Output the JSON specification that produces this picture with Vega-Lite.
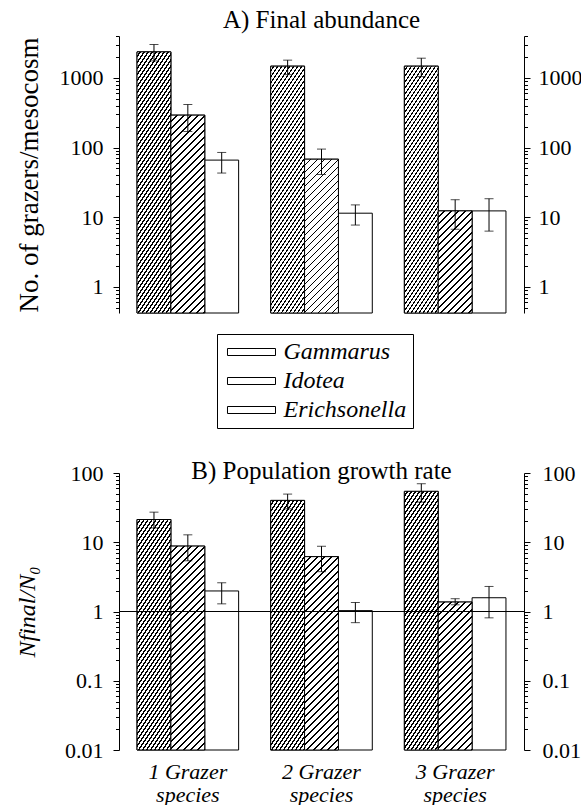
{
  "$schema": "https://vega.github.io/schema/vega-lite/v6.json",
  "padding": {"left": 14, "top": 8, "right": 0, "bottom": 0},
  "background": "white",
  "spacing": 140,
  "params": [
    {"name": "gst", "value": [
{"offset":0,"color":"#fff"},{"offset":0.0075,"color":"#fff"},{"offset":0.0075,"color":"#000"},{"offset":0.0125,"color":"#000"},
{"offset":0.0125,"color":"#fff"},{"offset":0.02,"color":"#fff"},{"offset":0.02,"color":"#000"},{"offset":0.025,"color":"#000"},
{"offset":0.025,"color":"#fff"},{"offset":0.0325,"color":"#fff"},{"offset":0.0325,"color":"#000"},{"offset":0.0375,"color":"#000"},
{"offset":0.0375,"color":"#fff"},{"offset":0.045,"color":"#fff"},{"offset":0.045,"color":"#000"},{"offset":0.05,"color":"#000"},
{"offset":0.05,"color":"#fff"},{"offset":0.0575,"color":"#fff"},{"offset":0.0575,"color":"#000"},{"offset":0.0625,"color":"#000"},
{"offset":0.0625,"color":"#fff"},{"offset":0.07,"color":"#fff"},{"offset":0.07,"color":"#000"},{"offset":0.075,"color":"#000"},
{"offset":0.075,"color":"#fff"},{"offset":0.0825,"color":"#fff"},{"offset":0.0825,"color":"#000"},{"offset":0.0875,"color":"#000"},
{"offset":0.0875,"color":"#fff"},{"offset":0.095,"color":"#fff"},{"offset":0.095,"color":"#000"},{"offset":0.1,"color":"#000"},
{"offset":0.1,"color":"#fff"},{"offset":0.1075,"color":"#fff"},{"offset":0.1075,"color":"#000"},{"offset":0.1125,"color":"#000"},
{"offset":0.1125,"color":"#fff"},{"offset":0.12,"color":"#fff"},{"offset":0.12,"color":"#000"},{"offset":0.125,"color":"#000"},
{"offset":0.125,"color":"#fff"},{"offset":0.1325,"color":"#fff"},{"offset":0.1325,"color":"#000"},{"offset":0.1375,"color":"#000"},
{"offset":0.1375,"color":"#fff"},{"offset":0.145,"color":"#fff"},{"offset":0.145,"color":"#000"},{"offset":0.15,"color":"#000"},
{"offset":0.15,"color":"#fff"},{"offset":0.1575,"color":"#fff"},{"offset":0.1575,"color":"#000"},{"offset":0.1625,"color":"#000"},
{"offset":0.1625,"color":"#fff"},{"offset":0.17,"color":"#fff"},{"offset":0.17,"color":"#000"},{"offset":0.175,"color":"#000"},
{"offset":0.175,"color":"#fff"},{"offset":0.1825,"color":"#fff"},{"offset":0.1825,"color":"#000"},{"offset":0.1875,"color":"#000"},
{"offset":0.1875,"color":"#fff"},{"offset":0.195,"color":"#fff"},{"offset":0.195,"color":"#000"},{"offset":0.2,"color":"#000"},
{"offset":0.2,"color":"#fff"},{"offset":0.2075,"color":"#fff"},{"offset":0.2075,"color":"#000"},{"offset":0.2125,"color":"#000"},
{"offset":0.2125,"color":"#fff"},{"offset":0.22,"color":"#fff"},{"offset":0.22,"color":"#000"},{"offset":0.225,"color":"#000"},
{"offset":0.225,"color":"#fff"},{"offset":0.2325,"color":"#fff"},{"offset":0.2325,"color":"#000"},{"offset":0.2375,"color":"#000"},
{"offset":0.2375,"color":"#fff"},{"offset":0.245,"color":"#fff"},{"offset":0.245,"color":"#000"},{"offset":0.25,"color":"#000"},
{"offset":0.25,"color":"#fff"},{"offset":0.2575,"color":"#fff"},{"offset":0.2575,"color":"#000"},{"offset":0.2625,"color":"#000"},
{"offset":0.2625,"color":"#fff"},{"offset":0.27,"color":"#fff"},{"offset":0.27,"color":"#000"},{"offset":0.275,"color":"#000"},
{"offset":0.275,"color":"#fff"},{"offset":0.2825,"color":"#fff"},{"offset":0.2825,"color":"#000"},{"offset":0.2875,"color":"#000"},
{"offset":0.2875,"color":"#fff"},{"offset":0.295,"color":"#fff"},{"offset":0.295,"color":"#000"},{"offset":0.3,"color":"#000"},
{"offset":0.3,"color":"#fff"},{"offset":0.3075,"color":"#fff"},{"offset":0.3075,"color":"#000"},{"offset":0.3125,"color":"#000"},
{"offset":0.3125,"color":"#fff"},{"offset":0.32,"color":"#fff"},{"offset":0.32,"color":"#000"},{"offset":0.325,"color":"#000"},
{"offset":0.325,"color":"#fff"},{"offset":0.3325,"color":"#fff"},{"offset":0.3325,"color":"#000"},{"offset":0.3375,"color":"#000"},
{"offset":0.3375,"color":"#fff"},{"offset":0.345,"color":"#fff"},{"offset":0.345,"color":"#000"},{"offset":0.35,"color":"#000"},
{"offset":0.35,"color":"#fff"},{"offset":0.3575,"color":"#fff"},{"offset":0.3575,"color":"#000"},{"offset":0.3625,"color":"#000"},
{"offset":0.3625,"color":"#fff"},{"offset":0.37,"color":"#fff"},{"offset":0.37,"color":"#000"},{"offset":0.375,"color":"#000"},
{"offset":0.375,"color":"#fff"},{"offset":0.3825,"color":"#fff"},{"offset":0.3825,"color":"#000"},{"offset":0.3875,"color":"#000"},
{"offset":0.3875,"color":"#fff"},{"offset":0.395,"color":"#fff"},{"offset":0.395,"color":"#000"},{"offset":0.4,"color":"#000"},
{"offset":0.4,"color":"#fff"},{"offset":0.4075,"color":"#fff"},{"offset":0.4075,"color":"#000"},{"offset":0.4125,"color":"#000"},
{"offset":0.4125,"color":"#fff"},{"offset":0.42,"color":"#fff"},{"offset":0.42,"color":"#000"},{"offset":0.425,"color":"#000"},
{"offset":0.425,"color":"#fff"},{"offset":0.4325,"color":"#fff"},{"offset":0.4325,"color":"#000"},{"offset":0.4375,"color":"#000"},
{"offset":0.4375,"color":"#fff"},{"offset":0.445,"color":"#fff"},{"offset":0.445,"color":"#000"},{"offset":0.45,"color":"#000"},
{"offset":0.45,"color":"#fff"},{"offset":0.4575,"color":"#fff"},{"offset":0.4575,"color":"#000"},{"offset":0.4625,"color":"#000"},
{"offset":0.4625,"color":"#fff"},{"offset":0.47,"color":"#fff"},{"offset":0.47,"color":"#000"},{"offset":0.475,"color":"#000"},
{"offset":0.475,"color":"#fff"},{"offset":0.4825,"color":"#fff"},{"offset":0.4825,"color":"#000"},{"offset":0.4875,"color":"#000"},
{"offset":0.4875,"color":"#fff"},{"offset":0.495,"color":"#fff"},{"offset":0.495,"color":"#000"},{"offset":0.5,"color":"#000"},
{"offset":0.5,"color":"#fff"},{"offset":0.5075,"color":"#fff"},{"offset":0.5075,"color":"#000"},{"offset":0.5125,"color":"#000"},
{"offset":0.5125,"color":"#fff"},{"offset":0.52,"color":"#fff"},{"offset":0.52,"color":"#000"},{"offset":0.525,"color":"#000"},
{"offset":0.525,"color":"#fff"},{"offset":0.5325,"color":"#fff"},{"offset":0.5325,"color":"#000"},{"offset":0.5375,"color":"#000"},
{"offset":0.5375,"color":"#fff"},{"offset":0.545,"color":"#fff"},{"offset":0.545,"color":"#000"},{"offset":0.55,"color":"#000"},
{"offset":0.55,"color":"#fff"},{"offset":0.5575,"color":"#fff"},{"offset":0.5575,"color":"#000"},{"offset":0.5625,"color":"#000"},
{"offset":0.5625,"color":"#fff"},{"offset":0.57,"color":"#fff"},{"offset":0.57,"color":"#000"},{"offset":0.575,"color":"#000"},
{"offset":0.575,"color":"#fff"},{"offset":0.5825,"color":"#fff"},{"offset":0.5825,"color":"#000"},{"offset":0.5875,"color":"#000"},
{"offset":0.5875,"color":"#fff"},{"offset":0.595,"color":"#fff"},{"offset":0.595,"color":"#000"},{"offset":0.6,"color":"#000"},
{"offset":0.6,"color":"#fff"},{"offset":0.6075,"color":"#fff"},{"offset":0.6075,"color":"#000"},{"offset":0.6125,"color":"#000"},
{"offset":0.6125,"color":"#fff"},{"offset":0.62,"color":"#fff"},{"offset":0.62,"color":"#000"},{"offset":0.625,"color":"#000"},
{"offset":0.625,"color":"#fff"},{"offset":0.6325,"color":"#fff"},{"offset":0.6325,"color":"#000"},{"offset":0.6375,"color":"#000"},
{"offset":0.6375,"color":"#fff"},{"offset":0.645,"color":"#fff"},{"offset":0.645,"color":"#000"},{"offset":0.65,"color":"#000"},
{"offset":0.65,"color":"#fff"},{"offset":0.6575,"color":"#fff"},{"offset":0.6575,"color":"#000"},{"offset":0.6625,"color":"#000"},
{"offset":0.6625,"color":"#fff"},{"offset":0.67,"color":"#fff"},{"offset":0.67,"color":"#000"},{"offset":0.675,"color":"#000"},
{"offset":0.675,"color":"#fff"},{"offset":0.6825,"color":"#fff"},{"offset":0.6825,"color":"#000"},{"offset":0.6875,"color":"#000"},
{"offset":0.6875,"color":"#fff"},{"offset":0.695,"color":"#fff"},{"offset":0.695,"color":"#000"},{"offset":0.7,"color":"#000"},
{"offset":0.7,"color":"#fff"},{"offset":0.7075,"color":"#fff"},{"offset":0.7075,"color":"#000"},{"offset":0.7125,"color":"#000"},
{"offset":0.7125,"color":"#fff"},{"offset":0.72,"color":"#fff"},{"offset":0.72,"color":"#000"},{"offset":0.725,"color":"#000"},
{"offset":0.725,"color":"#fff"},{"offset":0.7325,"color":"#fff"},{"offset":0.7325,"color":"#000"},{"offset":0.7375,"color":"#000"},
{"offset":0.7375,"color":"#fff"},{"offset":0.745,"color":"#fff"},{"offset":0.745,"color":"#000"},{"offset":0.75,"color":"#000"},
{"offset":0.75,"color":"#fff"},{"offset":0.7575,"color":"#fff"},{"offset":0.7575,"color":"#000"},{"offset":0.7625,"color":"#000"},
{"offset":0.7625,"color":"#fff"},{"offset":0.77,"color":"#fff"},{"offset":0.77,"color":"#000"},{"offset":0.775,"color":"#000"},
{"offset":0.775,"color":"#fff"},{"offset":0.7825,"color":"#fff"},{"offset":0.7825,"color":"#000"},{"offset":0.7875,"color":"#000"},
{"offset":0.7875,"color":"#fff"},{"offset":0.795,"color":"#fff"},{"offset":0.795,"color":"#000"},{"offset":0.8,"color":"#000"},
{"offset":0.8,"color":"#fff"},{"offset":0.8075,"color":"#fff"},{"offset":0.8075,"color":"#000"},{"offset":0.8125,"color":"#000"},
{"offset":0.8125,"color":"#fff"},{"offset":0.82,"color":"#fff"},{"offset":0.82,"color":"#000"},{"offset":0.825,"color":"#000"},
{"offset":0.825,"color":"#fff"},{"offset":0.8325,"color":"#fff"},{"offset":0.8325,"color":"#000"},{"offset":0.8375,"color":"#000"},
{"offset":0.8375,"color":"#fff"},{"offset":0.845,"color":"#fff"},{"offset":0.845,"color":"#000"},{"offset":0.85,"color":"#000"},
{"offset":0.85,"color":"#fff"},{"offset":0.8575,"color":"#fff"},{"offset":0.8575,"color":"#000"},{"offset":0.8625,"color":"#000"},
{"offset":0.8625,"color":"#fff"},{"offset":0.87,"color":"#fff"},{"offset":0.87,"color":"#000"},{"offset":0.875,"color":"#000"},
{"offset":0.875,"color":"#fff"},{"offset":0.8825,"color":"#fff"},{"offset":0.8825,"color":"#000"},{"offset":0.8875,"color":"#000"},
{"offset":0.8875,"color":"#fff"},{"offset":0.895,"color":"#fff"},{"offset":0.895,"color":"#000"},{"offset":0.9,"color":"#000"},
{"offset":0.9,"color":"#fff"},{"offset":0.9075,"color":"#fff"},{"offset":0.9075,"color":"#000"},{"offset":0.9125,"color":"#000"},
{"offset":0.9125,"color":"#fff"},{"offset":0.92,"color":"#fff"},{"offset":0.92,"color":"#000"},{"offset":0.925,"color":"#000"},
{"offset":0.925,"color":"#fff"},{"offset":0.9325,"color":"#fff"},{"offset":0.9325,"color":"#000"},{"offset":0.9375,"color":"#000"},
{"offset":0.9375,"color":"#fff"},{"offset":0.945,"color":"#fff"},{"offset":0.945,"color":"#000"},{"offset":0.95,"color":"#000"},
{"offset":0.95,"color":"#fff"},{"offset":0.9575,"color":"#fff"},{"offset":0.9575,"color":"#000"},{"offset":0.9625,"color":"#000"},
{"offset":0.9625,"color":"#fff"},{"offset":0.97,"color":"#fff"},{"offset":0.97,"color":"#000"},{"offset":0.975,"color":"#000"},
{"offset":0.975,"color":"#fff"},{"offset":0.9825,"color":"#fff"},{"offset":0.9825,"color":"#000"},{"offset":0.9875,"color":"#000"},
{"offset":0.9875,"color":"#fff"},{"offset":0.995,"color":"#fff"},{"offset":0.995,"color":"#000"},{"offset":1,"color":"#000"}
    ]},
    {"name": "ist", "value": [
{"offset":0,"color":"#fff"},{"offset":0.02,"color":"#fff"},{"offset":0.02,"color":"#000"},{"offset":0.025,"color":"#000"},
{"offset":0.025,"color":"#fff"},{"offset":0.045,"color":"#fff"},{"offset":0.045,"color":"#000"},{"offset":0.05,"color":"#000"},
{"offset":0.05,"color":"#fff"},{"offset":0.07,"color":"#fff"},{"offset":0.07,"color":"#000"},{"offset":0.075,"color":"#000"},
{"offset":0.075,"color":"#fff"},{"offset":0.095,"color":"#fff"},{"offset":0.095,"color":"#000"},{"offset":0.1,"color":"#000"},
{"offset":0.1,"color":"#fff"},{"offset":0.12,"color":"#fff"},{"offset":0.12,"color":"#000"},{"offset":0.125,"color":"#000"},
{"offset":0.125,"color":"#fff"},{"offset":0.145,"color":"#fff"},{"offset":0.145,"color":"#000"},{"offset":0.15,"color":"#000"},
{"offset":0.15,"color":"#fff"},{"offset":0.17,"color":"#fff"},{"offset":0.17,"color":"#000"},{"offset":0.175,"color":"#000"},
{"offset":0.175,"color":"#fff"},{"offset":0.195,"color":"#fff"},{"offset":0.195,"color":"#000"},{"offset":0.2,"color":"#000"},
{"offset":0.2,"color":"#fff"},{"offset":0.22,"color":"#fff"},{"offset":0.22,"color":"#000"},{"offset":0.225,"color":"#000"},
{"offset":0.225,"color":"#fff"},{"offset":0.245,"color":"#fff"},{"offset":0.245,"color":"#000"},{"offset":0.25,"color":"#000"},
{"offset":0.25,"color":"#fff"},{"offset":0.27,"color":"#fff"},{"offset":0.27,"color":"#000"},{"offset":0.275,"color":"#000"},
{"offset":0.275,"color":"#fff"},{"offset":0.295,"color":"#fff"},{"offset":0.295,"color":"#000"},{"offset":0.3,"color":"#000"},
{"offset":0.3,"color":"#fff"},{"offset":0.32,"color":"#fff"},{"offset":0.32,"color":"#000"},{"offset":0.325,"color":"#000"},
{"offset":0.325,"color":"#fff"},{"offset":0.345,"color":"#fff"},{"offset":0.345,"color":"#000"},{"offset":0.35,"color":"#000"},
{"offset":0.35,"color":"#fff"},{"offset":0.37,"color":"#fff"},{"offset":0.37,"color":"#000"},{"offset":0.375,"color":"#000"},
{"offset":0.375,"color":"#fff"},{"offset":0.395,"color":"#fff"},{"offset":0.395,"color":"#000"},{"offset":0.4,"color":"#000"},
{"offset":0.4,"color":"#fff"},{"offset":0.42,"color":"#fff"},{"offset":0.42,"color":"#000"},{"offset":0.425,"color":"#000"},
{"offset":0.425,"color":"#fff"},{"offset":0.445,"color":"#fff"},{"offset":0.445,"color":"#000"},{"offset":0.45,"color":"#000"},
{"offset":0.45,"color":"#fff"},{"offset":0.47,"color":"#fff"},{"offset":0.47,"color":"#000"},{"offset":0.475,"color":"#000"},
{"offset":0.475,"color":"#fff"},{"offset":0.495,"color":"#fff"},{"offset":0.495,"color":"#000"},{"offset":0.5,"color":"#000"},
{"offset":0.5,"color":"#fff"},{"offset":0.52,"color":"#fff"},{"offset":0.52,"color":"#000"},{"offset":0.525,"color":"#000"},
{"offset":0.525,"color":"#fff"},{"offset":0.545,"color":"#fff"},{"offset":0.545,"color":"#000"},{"offset":0.55,"color":"#000"},
{"offset":0.55,"color":"#fff"},{"offset":0.57,"color":"#fff"},{"offset":0.57,"color":"#000"},{"offset":0.575,"color":"#000"},
{"offset":0.575,"color":"#fff"},{"offset":0.595,"color":"#fff"},{"offset":0.595,"color":"#000"},{"offset":0.6,"color":"#000"},
{"offset":0.6,"color":"#fff"},{"offset":0.62,"color":"#fff"},{"offset":0.62,"color":"#000"},{"offset":0.625,"color":"#000"},
{"offset":0.625,"color":"#fff"},{"offset":0.645,"color":"#fff"},{"offset":0.645,"color":"#000"},{"offset":0.65,"color":"#000"},
{"offset":0.65,"color":"#fff"},{"offset":0.67,"color":"#fff"},{"offset":0.67,"color":"#000"},{"offset":0.675,"color":"#000"},
{"offset":0.675,"color":"#fff"},{"offset":0.695,"color":"#fff"},{"offset":0.695,"color":"#000"},{"offset":0.7,"color":"#000"},
{"offset":0.7,"color":"#fff"},{"offset":0.72,"color":"#fff"},{"offset":0.72,"color":"#000"},{"offset":0.725,"color":"#000"},
{"offset":0.725,"color":"#fff"},{"offset":0.745,"color":"#fff"},{"offset":0.745,"color":"#000"},{"offset":0.75,"color":"#000"},
{"offset":0.75,"color":"#fff"},{"offset":0.77,"color":"#fff"},{"offset":0.77,"color":"#000"},{"offset":0.775,"color":"#000"},
{"offset":0.775,"color":"#fff"},{"offset":0.795,"color":"#fff"},{"offset":0.795,"color":"#000"},{"offset":0.8,"color":"#000"},
{"offset":0.8,"color":"#fff"},{"offset":0.82,"color":"#fff"},{"offset":0.82,"color":"#000"},{"offset":0.825,"color":"#000"},
{"offset":0.825,"color":"#fff"},{"offset":0.845,"color":"#fff"},{"offset":0.845,"color":"#000"},{"offset":0.85,"color":"#000"},
{"offset":0.85,"color":"#fff"},{"offset":0.87,"color":"#fff"},{"offset":0.87,"color":"#000"},{"offset":0.875,"color":"#000"},
{"offset":0.875,"color":"#fff"},{"offset":0.895,"color":"#fff"},{"offset":0.895,"color":"#000"},{"offset":0.9,"color":"#000"},
{"offset":0.9,"color":"#fff"},{"offset":0.92,"color":"#fff"},{"offset":0.92,"color":"#000"},{"offset":0.925,"color":"#000"},
{"offset":0.925,"color":"#fff"},{"offset":0.945,"color":"#fff"},{"offset":0.945,"color":"#000"},{"offset":0.95,"color":"#000"},
{"offset":0.95,"color":"#fff"},{"offset":0.97,"color":"#fff"},{"offset":0.97,"color":"#000"},{"offset":0.975,"color":"#000"},
{"offset":0.975,"color":"#fff"},{"offset":0.995,"color":"#fff"},{"offset":0.995,"color":"#000"},{"offset":1,"color":"#000"}
    ]}
  ],
  "config": {
    "font": "Liberation Serif",
    "view": {"stroke": null},
    "axis": {"domainColor": "#000", "tickColor": "#000", "labelColor": "#000", "titleColor": "#000", "grid": false, "labelFont": "Liberation Serif", "titleFont": "Liberation Serif", "titleFontWeight": "normal", "domainWidth": 1, "tickWidth": 1},
    "legend": {"labelFont": "Liberation Serif", "titleFont": "Liberation Serif"},
    "title": {"font": "Liberation Serif", "fontWeight": "normal", "color": "#000"}
  },
  "datasets": {
    "abund": [
      {"group": "1 Grazer species", "species": "Gammarus", "value": 2365, "lo": 1757, "hi": 3020},
      {"group": "1 Grazer species", "species": "Idotea", "value": 292, "lo": 170, "hi": 415},
      {"group": "1 Grazer species", "species": "Erichsonella", "value": 66, "lo": 43, "hi": 85},
      {"group": "2 Grazer species", "species": "Gammarus", "value": 1475, "lo": 1115, "hi": 1800},
      {"group": "2 Grazer species", "species": "Idotea", "value": 68, "lo": 41, "hi": 95},
      {"group": "2 Grazer species", "species": "Erichsonella", "value": 11.4, "lo": 7.7, "hi": 15},
      {"group": "3 Grazer species", "species": "Gammarus", "value": 1475, "lo": 1045, "hi": 1920},
      {"group": "3 Grazer species", "species": "Idotea", "value": 12.3, "lo": 6.7, "hi": 17.8},
      {"group": "3 Grazer species", "species": "Erichsonella", "value": 12.3, "lo": 6.3, "hi": 18.4}
    ],
    "growth": [
      {"group": "1 Grazer species", "species": "Gammarus", "value": 21.3, "lo": 16.1, "hi": 27.2},
      {"group": "1 Grazer species", "species": "Idotea", "value": 8.8, "lo": 5.4, "hi": 12.8},
      {"group": "1 Grazer species", "species": "Erichsonella", "value": 1.98, "lo": 1.29, "hi": 2.6},
      {"group": "2 Grazer species", "species": "Gammarus", "value": 40.2, "lo": 30.4, "hi": 49.6},
      {"group": "2 Grazer species", "species": "Idotea", "value": 6.2, "lo": 3.76, "hi": 8.75},
      {"group": "2 Grazer species", "species": "Erichsonella", "value": 1.03, "lo": 0.69, "hi": 1.35},
      {"group": "3 Grazer species", "species": "Gammarus", "value": 54.3, "lo": 38, "hi": 70},
      {"group": "3 Grazer species", "species": "Idotea", "value": 1.37, "lo": 1.25, "hi": 1.53},
      {"group": "3 Grazer species", "species": "Erichsonella", "value": 1.58, "lo": 0.81, "hi": 2.3}
    ]
  },
  "vconcat": [
    {
      "width": 405, "height": 277,
      "title": {"text": "A) Final abundance", "fontSize": 25, "font": "Liberation Serif", "frame": "group", "offset": -8},
      "data": {"name": "abund"},
      "encoding": {
        "x": {"field": "group", "type": "nominal", "sort": null, "scale": {"paddingInner": 0.24, "paddingOuter": 0.135}, "axis": null},
        "xOffset": {"field": "species", "type": "nominal", "scale": {"domain": ["Gammarus", "Idotea", "Erichsonella"], "paddingInner": 0, "paddingOuter": 0}}
      },
      "layer": [
        {
          "mark": {"type": "bar", "fill": "#fff", "strokeWidth": 1, "opacity": 1},
          "encoding": {
            "y": {"field": "value", "type": "quantitative", "scale": {"type": "log", "domain": [0.42, 4000], "nice": false},
              "axis": {"orient": "left", "title": "No. of grazers/mesocosm", "titleFont": "Liberation Serif", "titleFontSize": 27, "titlePadding": 16,
                "values": [0.5,0.6,0.7,0.8,0.9,1,2,3,4,5,6,7,8,9,10,20,30,40,50,60,70,80,90,100,200,300,400,500,600,700,800,900,1000,2000,3000,4000],
                "labelExpr": "indexof([0.01,0.1,1,10,100,1000], datum.value) >= 0 ? '' + datum.value : ''",
                "tickSize": {"condition": {"test": "indexof([0.01,0.1,1,10,100,1000], datum.value) >= 0", "value": 6}, "value": 3.5},
                "labelFont": "Liberation Serif", "labelFontSize": 22, "labelPadding": 10, "labelOverlap": false, "labelBound": false}},
            "y2": {"datum": 0.42},
            "stroke": {"field": "species", "type": "nominal",
              "scale": {"domain": ["Gammarus", "Idotea", "Erichsonella"], "range": ["#000", "#000", "#000"]},
              "legend": {"title": null, "orient": "none", "legendX": 98, "legendY": 298, "direction": "vertical",
                "symbolType": "M-3.43,-0.5H3.43V0.5H-3.43Z", "symbolSize": 196, "symbolStrokeWidth": 1, "symbolOpacity": 1,
                "symbolFillColor": {"expr": "datum.value === 'Gammarus' ? {gradient:'linear',x1:0,y1:0,x2:6.604,y2:0.642,stops:gst} : datum.value === 'Idotea' ? {gradient:'linear',x1:0,y1:0,x2:5.712,y2:0.833,stops:ist} : '#fff'"},
                "symbolOffset": 16.5, "labelOffset": 20, "labelFont": "Liberation Serif", "labelFontSize": 24, "labelFontStyle": "italic", "labelColor": "#000",
                "rowPadding": 5, "padding": 6, "strokeColor": "#000",
                "encode": {"symbols": {"update": {
                  "fill": {"signal": "datum.value === 'Gammarus' ? {gradient:'linear',x1:0,y1:0,x2:6.604,y2:0.642,stops:gst} : datum.value === 'Idotea' ? {gradient:'linear',x1:0,y1:0,x2:5.712,y2:0.833,stops:ist} : '#fff'"},
                  "strokeWidth": {"value": 1}, "opacity": {"value": 1}, "fillOpacity": {"value": 1}, "strokeOpacity": {"value": 1}
                }}}
              }}
          }
        },
        {
          "transform": [{"filter": "datum.species === 'Gammarus'"}],
          "mark": {"type": "bar", "stroke": "#000", "strokeWidth": 1},
          "encoding": {
            "y": {"field": "value", "type": "quantitative", "scale": {"type": "log", "domain": [0.42, 4000], "nice": false}, "axis": null},
            "y2": {"datum": 0.42},
            "fill": {"value": {"expr": "{gradient:'linear',x1:0,y1:0,x2:480*50.79/(2579.9+pow((log(datum.value)/LN10+0.37675)*69.619,2)),y2:480*(log(datum.value)/LN10+0.37675)*69.619/(2579.9+pow((log(datum.value)/LN10+0.37675)*69.619,2)),stops:gst}"}}
          }
        },
        {
          "transform": [{"filter": "datum.species === 'Idotea'"}],
          "mark": {"type": "bar", "stroke": "#000", "strokeWidth": 1},
          "encoding": {
            "y": {"field": "value", "type": "quantitative", "scale": {"type": "log", "domain": [0.42, 4000], "nice": false}, "axis": null},
            "y2": {"datum": 0.42},
            "fill": {"value": {"expr": "{gradient:'linear',x1:0,y1:0,x2:280*33.86/(1146.6+pow((log(datum.value)/LN10+0.37675)*69.619,2)),y2:280*(log(datum.value)/LN10+0.37675)*69.619/(1146.6+pow((log(datum.value)/LN10+0.37675)*69.619,2)),stops:ist}"}}
          }
        },
        {
          "mark": {"type": "rule", "color": "#000", "strokeWidth": 1},
          "encoding": {
            "y": {"field": "lo", "type": "quantitative", "scale": {"type": "log", "domain": [0.42, 4000], "nice": false},
              "axis": {"orient": "right", "title": null,
                "values": [0.5,0.6,0.7,0.8,0.9,1,2,3,4,5,6,7,8,9,10,20,30,40,50,60,70,80,90,100,200,300,400,500,600,700,800,900,1000,2000,3000,4000],
                "labelExpr": "indexof([0.01,0.1,1,10,100,1000], datum.value) >= 0 ? '' + datum.value : ''",
                "tickSize": {"condition": {"test": "indexof([0.01,0.1,1,10,100,1000], datum.value) >= 0", "value": 6}, "value": 3.5},
                "labelFont": "Liberation Serif", "labelFontSize": 22, "labelPadding": 8, "labelOverlap": false, "labelBound": false}},
            "y2": {"field": "hi"}
          }
        },
        {
          "mark": {"type": "tick", "color": "#000", "thickness": 1, "size": 9},
          "encoding": {"y": {"field": "lo", "type": "quantitative", "scale": {"type": "log", "domain": [0.42, 4000], "nice": false}, "axis": null}}
        },
        {
          "mark": {"type": "tick", "color": "#000", "thickness": 1, "size": 9},
          "encoding": {"y": {"field": "hi", "type": "quantitative", "scale": {"type": "log", "domain": [0.42, 4000], "nice": false}, "axis": null}}
        }
      ],
      "resolve": {"axis": {"y": "independent"}}
    },
    {
      "width": 405, "height": 277,
      "title": {"text": "B) Population growth rate", "fontSize": 25, "font": "Liberation Serif", "frame": "group", "offset": -22},
      "data": {"name": "growth"},
      "layer": [
        {
          "mark": {"type": "bar", "stroke": "#000", "strokeWidth": 1, "fill": "#fff"},
          "encoding": {
            "x": {"field": "group", "type": "nominal", "sort": null, "scale": {"paddingInner": 0.24, "paddingOuter": 0.135},
              "axis": {"title": null, "domain": false, "ticks": false, "labelAngle": 0, "labelFont": "Liberation Serif", "labelFontSize": 22, "labelFontStyle": "italic", "labelPadding": 11, "labelLineHeight": 23, "labelExpr": "[replace(datum.label, ' species', ''), 'species']"}},
            "xOffset": {"field": "species", "type": "nominal", "scale": {"domain": ["Gammarus", "Idotea", "Erichsonella"], "paddingInner": 0, "paddingOuter": 0}},
            "y": {"field": "value", "type": "quantitative", "scale": {"type": "log", "domain": [0.01, 100], "nice": false},
              "axis": {"orient": "left", "title": "Nfinal/N₀", "titleFont": "Liberation Serif", "titleFontSize": 24, "titleFontStyle": "italic", "titlePadding": 25,
                "values": [0.01,0.02,0.03,0.04,0.05,0.06,0.07,0.08,0.09,0.1,0.2,0.3,0.4,0.5,0.6,0.7,0.8,0.9,1,2,3,4,5,6,7,8,9,10,20,30,40,50,60,70,80,90,100],
                "labelExpr": "indexof([0.01,0.1,1,10,100,1000], datum.value) >= 0 ? '' + datum.value : ''",
                "tickSize": {"condition": {"test": "indexof([0.01,0.1,1,10,100,1000], datum.value) >= 0", "value": 6}, "value": 3.5},
                "labelFont": "Liberation Serif", "labelFontSize": 22, "labelPadding": 10, "labelOverlap": false, "labelBound": false}},
            "y2": {"datum": 0.01}
          }
        },
        {
          "transform": [{"filter": "datum.species === 'Gammarus'"}],
          "mark": {"type": "bar", "stroke": "#000", "strokeWidth": 1},
          "encoding": {
            "x": {"field": "group", "type": "nominal", "sort": null, "scale": {"paddingInner": 0.24, "paddingOuter": 0.135},
              "axis": {"title": null, "domain": false, "ticks": false, "labelAngle": 0, "labelFont": "Liberation Serif", "labelFontSize": 22, "labelFontStyle": "italic", "labelPadding": 11, "labelLineHeight": 23, "labelExpr": "[replace(datum.label, ' species', ''), 'species']"}},
            "xOffset": {"field": "species", "type": "nominal", "scale": {"domain": ["Gammarus", "Idotea", "Erichsonella"], "paddingInner": 0, "paddingOuter": 0}},
            "y": {"field": "value", "type": "quantitative", "scale": {"type": "log", "domain": [0.01, 100], "nice": false}, "axis": null},
            "y2": {"datum": 0.01},
            "fill": {"value": {"expr": "{gradient:'linear',x1:0,y1:0,x2:480*50.79/(2579.9+pow((log(datum.value)/LN10+2)*69.25,2)),y2:480*(log(datum.value)/LN10+2)*69.25/(2579.9+pow((log(datum.value)/LN10+2)*69.25,2)),stops:gst}"}}
          }
        },
        {
          "transform": [{"filter": "datum.species === 'Idotea'"}],
          "mark": {"type": "bar", "stroke": "#000", "strokeWidth": 1},
          "encoding": {
            "x": {"field": "group", "type": "nominal", "sort": null, "scale": {"paddingInner": 0.24, "paddingOuter": 0.135},
              "axis": {"title": null, "domain": false, "ticks": false, "labelAngle": 0, "labelFont": "Liberation Serif", "labelFontSize": 22, "labelFontStyle": "italic", "labelPadding": 11, "labelLineHeight": 23, "labelExpr": "[replace(datum.label, ' species', ''), 'species']"}},
            "xOffset": {"field": "species", "type": "nominal", "scale": {"domain": ["Gammarus", "Idotea", "Erichsonella"], "paddingInner": 0, "paddingOuter": 0}},
            "y": {"field": "value", "type": "quantitative", "scale": {"type": "log", "domain": [0.01, 100], "nice": false}, "axis": null},
            "y2": {"datum": 0.01},
            "fill": {"value": {"expr": "{gradient:'linear',x1:0,y1:0,x2:280*33.86/(1146.6+pow((log(datum.value)/LN10+2)*69.25,2)),y2:280*(log(datum.value)/LN10+2)*69.25/(1146.6+pow((log(datum.value)/LN10+2)*69.25,2)),stops:ist}"}}
          }
        },
        {
          "data": {"values": [{}]},
          "mark": {"type": "rule", "color": "#000", "strokeWidth": 1},
          "encoding": {
            "y": {"datum": 1, "type": "quantitative", "scale": {"type": "log", "domain": [0.01, 100], "nice": false}, "axis": null}
          }
        },
        {
          "mark": {"type": "rule", "color": "#000", "strokeWidth": 1},
          "encoding": {
            "x": {"field": "group", "type": "nominal", "sort": null, "scale": {"paddingInner": 0.24, "paddingOuter": 0.135},
              "axis": {"title": null, "domain": false, "ticks": false, "labelAngle": 0, "labelFont": "Liberation Serif", "labelFontSize": 22, "labelFontStyle": "italic", "labelPadding": 11, "labelLineHeight": 23, "labelExpr": "[replace(datum.label, ' species', ''), 'species']"}},
            "xOffset": {"field": "species", "type": "nominal", "scale": {"domain": ["Gammarus", "Idotea", "Erichsonella"], "paddingInner": 0, "paddingOuter": 0}},
            "y": {"field": "lo", "type": "quantitative", "scale": {"type": "log", "domain": [0.01, 100], "nice": false},
              "axis": {"orient": "right", "title": null,
                "values": [0.01,0.02,0.03,0.04,0.05,0.06,0.07,0.08,0.09,0.1,0.2,0.3,0.4,0.5,0.6,0.7,0.8,0.9,1,2,3,4,5,6,7,8,9,10,20,30,40,50,60,70,80,90,100],
                "labelExpr": "indexof([0.01,0.1,1,10,100,1000], datum.value) >= 0 ? '' + datum.value : ''",
                "tickSize": {"condition": {"test": "indexof([0.01,0.1,1,10,100,1000], datum.value) >= 0", "value": 6}, "value": 3.5},
                "labelFont": "Liberation Serif", "labelFontSize": 22, "labelPadding": 12, "labelOverlap": false, "labelBound": false}},
            "y2": {"field": "hi"}
          }
        },
        {
          "mark": {"type": "tick", "color": "#000", "thickness": 1, "size": 9},
          "encoding": {
            "x": {"field": "group", "type": "nominal", "sort": null, "scale": {"paddingInner": 0.24, "paddingOuter": 0.135},
              "axis": {"title": null, "domain": false, "ticks": false, "labelAngle": 0, "labelFont": "Liberation Serif", "labelFontSize": 22, "labelFontStyle": "italic", "labelPadding": 11, "labelLineHeight": 23, "labelExpr": "[replace(datum.label, ' species', ''), 'species']"}},
            "xOffset": {"field": "species", "type": "nominal", "scale": {"domain": ["Gammarus", "Idotea", "Erichsonella"], "paddingInner": 0, "paddingOuter": 0}},
            "y": {"field": "lo", "type": "quantitative", "scale": {"type": "log", "domain": [0.01, 100], "nice": false}, "axis": null}
          }
        },
        {
          "mark": {"type": "tick", "color": "#000", "thickness": 1, "size": 9},
          "encoding": {
            "x": {"field": "group", "type": "nominal", "sort": null, "scale": {"paddingInner": 0.24, "paddingOuter": 0.135},
              "axis": {"title": null, "domain": false, "ticks": false, "labelAngle": 0, "labelFont": "Liberation Serif", "labelFontSize": 22, "labelFontStyle": "italic", "labelPadding": 11, "labelLineHeight": 23, "labelExpr": "[replace(datum.label, ' species', ''), 'species']"}},
            "xOffset": {"field": "species", "type": "nominal", "scale": {"domain": ["Gammarus", "Idotea", "Erichsonella"], "paddingInner": 0, "paddingOuter": 0}},
            "y": {"field": "hi", "type": "quantitative", "scale": {"type": "log", "domain": [0.01, 100], "nice": false}, "axis": null}
          }
        }
      ],
      "resolve": {"axis": {"y": "independent"}}
    }
  ]
}
